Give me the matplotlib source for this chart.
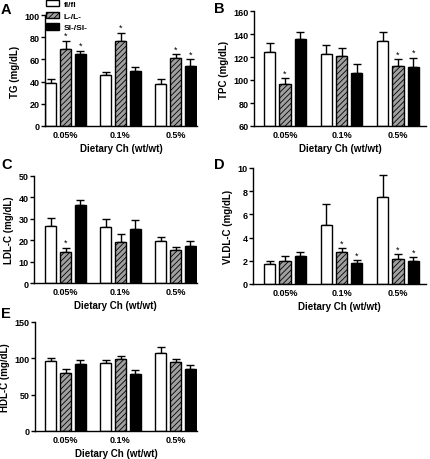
import numpy as np
import matplotlib
matplotlib.use("Agg")
import matplotlib.pyplot as plt

plt.rcParams['font.family'] = ['Liberation Sans', 'DejaVu Sans']
plt.rcParams['font.weight'] = 'bold'
plt.rcParams['hatch.linewidth'] = 0.6

groups = ["0.05%", "0.1%", "0.5%"]
genotypes = ["fl/fl", "L-/L-", "Sl-/Sl-"]

# mean and upper error per genotype, order of groups
tg_mean = [[39, 46, 38], [69, 77, 61.5], [65, 50, 54]]
tg_err = [[3, 3, 4], [8, 7, 3.5], [3, 3.5, 6]]
tg_star = [[0, 0, 0], [1, 1, 1], [1, 0, 1]]

tpc_mean = [[124, 123, 133.5], [96.5, 121, 112], [135.5, 106, 111.5]]
tpc_err = [[8, 7.5, 8], [5, 6.5, 6], [6.5, 7.5, 8]]
tpc_star = [[0, 0, 0], [1, 0, 1], [0, 0, 1]]

ldl_mean = [[26.5, 26, 19.5], [14.5, 19, 15.3], [36.5, 25.3, 17.2]]
ldl_err = [[4, 3.8, 1.8], [2, 4, 1.5], [2.3, 4.3, 2.2]]
ldl_star = [[0, 0, 0], [1, 0, 0], [0, 0, 0]]

vldl_mean = [[1.7, 5.1, 7.5], [2.0, 2.75, 2.15], [2.45, 1.85, 1.95]]
vldl_err = [[0.25, 1.8, 1.9], [0.4, 0.35, 0.45], [0.3, 0.2, 0.35]]
vldl_star = [[0, 0, 0], [0, 1, 1], [0, 1, 1]]

hdl_mean = [[96, 93, 107], [80, 98.5, 94.5], [92.5, 79, 85.5]]
hdl_err = [[5, 5, 8], [5.5, 5, 4.5], [5, 4.5, 5]]
hdl_star = [[0, 0, 0], [0, 0, 0], [0, 0, 0]]

W, H = 430, 460
fig = plt.figure(figsize=(W / 100, H / 100), dpi=100)


def px_axes(left, top, right, bottom, c0, unit):
    ax = fig.add_axes([left / W, 1 - bottom / H, (right - left) / W, (bottom - top) / H])
    # x range so that group centres land at c0, c0+unit, ...
    ax.set_xlim((left - c0) / unit, (right - c0) / unit)
    return ax


styles = [dict(facecolor='white', hatch=None),
          dict(facecolor='#a0a0a0', hatch='//////'),
          dict(facecolor='black', hatch=None)]


def panel(ax, means, errs, stars, ylabel, ylim, yticks, letter, lpos):
    x = np.arange(len(groups))
    bw = 0.2
    offs = [-0.27, 0, 0.27]
    span = ylim[1] - ylim[0]
    for g in range(3):
        m = np.array(means[g])
        e = np.array(errs[g])
        ax.bar(x + offs[g], m - ylim[0], bw, bottom=ylim[0], edgecolor='black',
               linewidth=1.0, label=genotypes[g], zorder=2, **styles[g])
        ax.errorbar(x + offs[g], m, yerr=[np.zeros(3), e], fmt='none',
                    ecolor='black', elinewidth=1.0, capsize=2.8, capthick=1.0, zorder=1)
        for i in range(3):
            if stars[g][i]:
                ax.text(x[i] + offs[g], m[i] + e[i] + span * 0.005, '*',
                        ha='center', va='bottom', fontsize=6.5, fontweight='normal')
    ax.set_ylim(ylim)
    ax.set_yticks(yticks)
    ax.set_xticks(x)
    ax.set_xticklabels(groups)
    ax.tick_params(axis='x', length=0, labelsize=6.5, pad=3)
    ax.tick_params(axis='y', length=3, width=1, labelsize=6.5, pad=1)
    for lab in ax.get_xticklabels() + ax.get_yticklabels():
        lab.set_fontweight('bold')
    ax.spines['top'].set_visible(False)
    ax.spines['right'].set_visible(False)
    ax.spines['left'].set_linewidth(1.0)
    ax.spines['bottom'].set_linewidth(1.0)
    ax.set_ylabel(ylabel, fontsize=7, fontweight='bold', labelpad=3)
    ax.set_xlabel("Dietary Ch (wt/wt)", fontsize=7, fontweight='bold', labelpad=3)
    fig.text(lpos[0] / W, 1 - lpos[1] / H, letter, fontsize=10.5, fontweight='bold',
             ha='left', va='top')


axA = px_axes(45, 16, 197, 127, 65.5, 55)
panel(axA, tg_mean, tg_err, tg_star, "TG (mg/dL)", (0, 100), [0, 20, 40, 60, 80, 100], "A", (1, 3))
axA.legend(loc='upper left', bbox_to_anchor=(46 / W, 1 - 1 / H), bbox_transform=fig.transFigure,
           frameon=False, fontsize=6, handlelength=1.6, handleheight=0.75,
           handletextpad=0.5, labelspacing=0.45, borderaxespad=0, borderpad=0)

axB = px_axes(254, 12, 426, 127, 285, 56.5)
panel(axB, tpc_mean, tpc_err, tpc_star, "TPC (mg/dL)", (60, 160), [60, 80, 100, 120, 140, 160], "B", (214, 2))

axC = px_axes(34, 177, 197, 284, 65.5, 55)
panel(axC, ldl_mean, ldl_err, ldl_star, "LDL-C (mg/dL)", (0, 50), [0, 10, 20, 30, 40, 50], "C", (1, 158))

axD = px_axes(253, 169, 426, 285, 285, 56.5)
panel(axD, vldl_mean, vldl_err, vldl_star, "VLDL-C (mg/dL)", (0, 10), [0, 2, 4, 6, 8, 10], "D", (214, 158))

axE = px_axes(35, 323, 197, 432, 65.5, 55)
panel(axE, hdl_mean, hdl_err, hdl_star, "HDL-C (mg/dL)", (0, 150), [0, 50, 100, 150], "E", (1, 307))

fig.savefig("out.png", dpi=100)
